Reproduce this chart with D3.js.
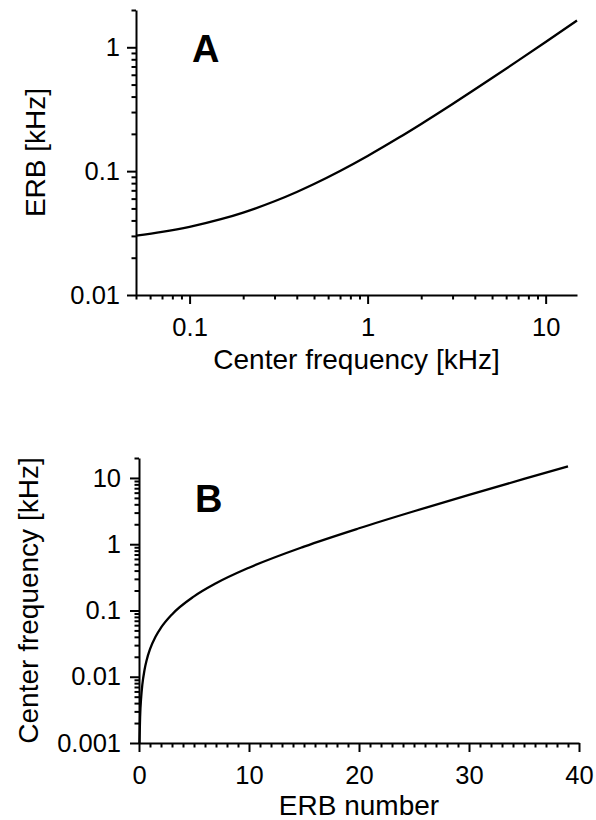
<!DOCTYPE html>
<html>
<head>
<meta charset="utf-8">
<script src="https://cdn.jsdelivr.net/npm/d3@7"></script>
<style>
  html, body { margin: 0; padding: 0; background: #fff; }
  svg { display: block; }
  text { font-family: "Liberation Sans", Arial, Helvetica, sans-serif; fill: #000; }
</style>
</head>
<body>
<svg id="chart" width="596" height="820"></svg>
<script>
// ---- Panel A data: ERB vs center frequency (kHz) ----
const freqA = [0.05, 0.07, 0.1, 0.15, 0.2, 0.3, 0.4, 0.5, 0.7, 1, 1.5, 2, 3, 5, 7, 10, 15];
const erbA  = [0.0301, 0.0323, 0.0355, 0.0409, 0.0463, 0.0571, 0.0679, 0.0787, 0.1003, 0.1326, 0.1866, 0.2406, 0.3485, 0.5644, 0.7803, 1.1041, 1.6438];
const xTicksA = [0.1, 1, 10];
const xTickLabelsA = ["0.1", "1", "10"];
const yTicksA = [0.01, 0.1, 1];
const yTickLabelsA = ["0.01", "0.1", "1"];

// ---- Panel B data: center frequency (kHz) vs ERB number ----
const erbNumB = [0.04, 0.1, 0.2, 0.3, 0.5, 0.7, 1, 1.5, 2, 3, 5, 7, 10, 15, 20, 25, 30, 35, 39];
const freqB   = [0.00099, 0.00248, 0.00498, 0.00751, 0.01265, 0.0179, 0.026, 0.0401, 0.0549, 0.0872, 0.163, 0.2572, 0.4423, 0.9206, 1.7395, 3.1421, 5.5439, 9.6575, 14.974];
const xTicksB = [0, 10, 20, 30, 40];
const xTickLabelsB = ["0", "10", "20", "30", "40"];
const yTicksB = [0.001, 0.01, 0.1, 1, 10];
const yTickLabelsB = ["0.001", "0.01", "0.1", "1", "10"];

const svg = d3.select("#chart");

function logMinor(lo, hi) {
  const out = [];
  for (let e = -4; e <= 2; e++) {
    for (let m = 2; m <= 9; m++) {
      const v = m * Math.pow(10, e);
      if (v >= lo * 0.999 && v <= hi * 1.001) out.push(v);
    }
  }
  return out;
}

function styleAxis(g) {
  g.selectAll("path, line").attr("stroke", "#000").attr("stroke-width", 2);
  g.selectAll("text").style("font-size", "25.5px").attr("fill", "#000");
}

function panel(opts) {
  const { x, y, data, xTicks, xLabels, yTicks, yLabels, xMinor, yMinor,
          xTitle, yTitle, letter, letterPos, yPad, yTitleX, xTitleY } = opts;
  const [x0, x1] = x.range();
  const [yb, yt] = y.range();
  const g = svg.append("g");

  // minor ticks
  g.append("g").attr("transform", `translate(0,${yb})`)
    .call(d3.axisBottom(x).tickValues(xMinor).tickSize(4.5).tickFormat("").tickSizeOuter(0))
    .call(styleAxis).call(a => a.select(".domain").remove());
  g.append("g").attr("transform", `translate(${x0},0)`)
    .call(d3.axisLeft(y).tickValues(yMinor).tickSize(4.5).tickFormat("").tickSizeOuter(0))
    .call(styleAxis).call(a => a.select(".domain").remove());

  // major axes
  g.append("g").attr("transform", `translate(0,${yb})`)
    .call(d3.axisBottom(x).tickValues(xTicks).tickSize(9).tickPadding(14).tickSizeOuter(0)
      .tickFormat((d, i) => xLabels[i]))
    .call(styleAxis);
  g.append("g").attr("transform", `translate(${x0},0)`)
    .call(d3.axisLeft(y).tickValues(yTicks).tickSize(9).tickPadding(yPad).tickSizeOuter(0)
      .tickFormat((d, i) => yLabels[i]))
    .call(styleAxis);

  // curve
  const line = d3.line().x(d => x(d[0])).y(d => y(d[1])).curve(d3.curveMonotoneX);
  g.append("path").datum(data).attr("d", line)
    .attr("fill", "none").attr("stroke", "#000").attr("stroke-width", 2.3)
    .attr("stroke-linejoin", "round");

  // titles
  g.append("text").attr("x", (x0 + x1) / 2).attr("y", xTitleY)
    .attr("text-anchor", "middle").style("font-size", "28px").text(xTitle);
  g.append("text")
    .attr("transform", `translate(${yTitleX},${(yb + yt) / 2}) rotate(-90)`)
    .attr("text-anchor", "middle").style("font-size", "28px").text(yTitle);
  g.append("text").attr("x", letterPos[0]).attr("y", letterPos[1])
    .style("font-size", "38px").style("font-weight", "bold").text(letter);
}

// Panel A
const xA = d3.scaleLog().domain([0.05, 15]).range([136, 577]);
const yA = d3.scaleLog().domain([0.01, 2]).range([295, 10]);
panel({
  x: xA, y: yA,
  data: freqA.map((f, i) => [f, erbA[i]]),
  xTicks: xTicksA, xLabels: xTickLabelsA, yTicks: yTicksA, yLabels: yTickLabelsA,
  xMinor: logMinor(0.05, 15).filter(v => !xTicksA.includes(v)),
  yMinor: logMinor(0.01, 2).filter(v => !yTicksA.includes(v)),
  xTitle: "Center frequency [kHz]", yTitle: "ERB [kHz]",
  letter: "A", letterPos: [192, 62], yPad: 7, yTitleX: 45, xTitleY: 369
});

// Panel B
const xB = d3.scaleLinear().domain([0, 40]).range([139, 579]);
const yB = d3.scaleLog().domain([0.001, 20]).range([743, 458]);
panel({
  x: xB, y: yB,
  data: erbNumB.map((e, i) => [e, freqB[i]]),
  xTicks: xTicksB, xLabels: xTickLabelsB, yTicks: yTicksB, yLabels: yTickLabelsB,
  xMinor: d3.range(1, 40).filter(v => v % 10 !== 0),
  yMinor: logMinor(0.001, 20).filter(v => !yTicksB.some(t => Math.abs(t - v) < 1e-9)),
  xTitle: "ERB number", yTitle: "Center frequency [kHz]",
  letter: "B", letterPos: [195, 512], yPad: 9, yTitleX: 38, xTitleY: 815
});
</script>
</body>
</html>
